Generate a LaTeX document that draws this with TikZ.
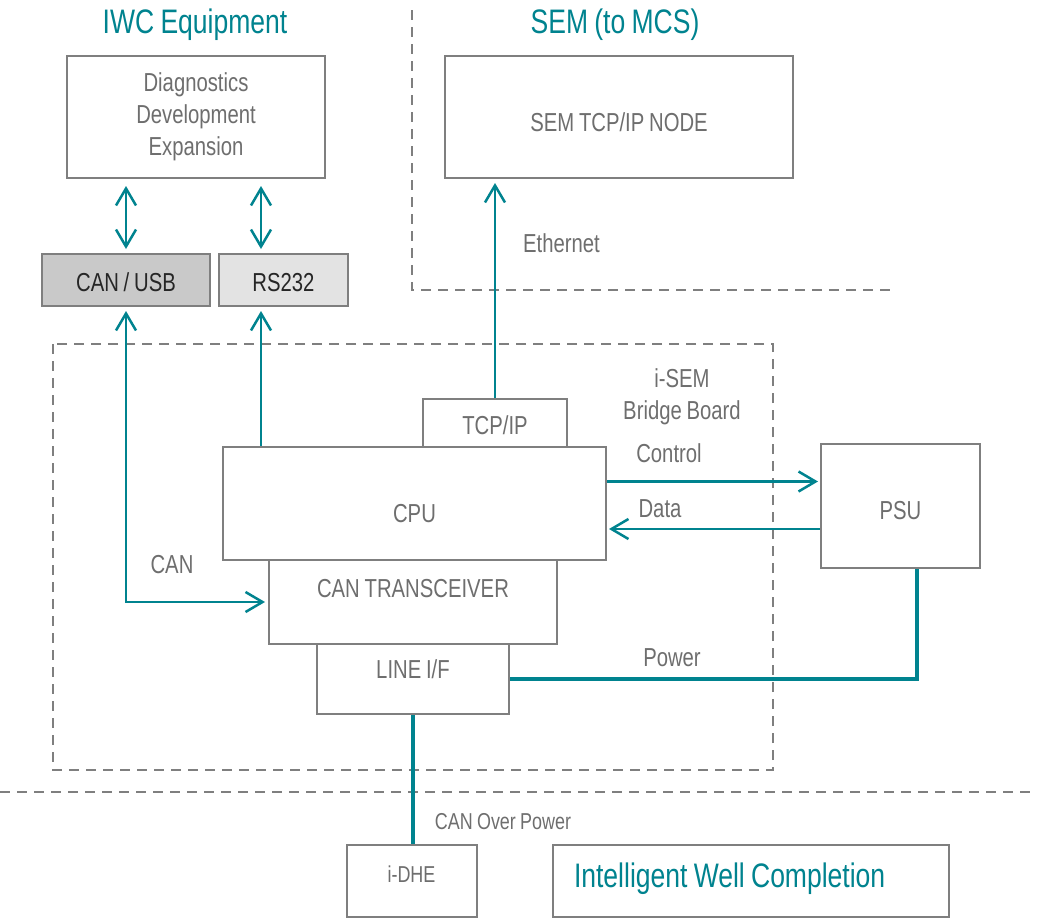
\documentclass[tikz,border=0pt]{standalone}
\usepackage{fontspec}
\setmainfont{Liberation Sans}[FakeStretch=0.78, WordSpace=0.85]
\usetikzlibrary{arrows.meta}
\definecolor{iwcteal}{HTML}{00838F}
\definecolor{boxgray}{HTML}{7F7F7F}
\definecolor{txtgray}{HTML}{6E6E6E}
\tikzstyle{block}=[draw=boxgray,line width=2pt,fill=white,text=txtgray,inner sep=0pt,font=\fontsize{26}{32}\selectfont]
\tikzstyle{tag}=[text=txtgray,inner sep=0pt,font=\fontsize{26}{32}\selectfont]
\tikzstyle{heading}=[text=iwcteal,inner sep=0pt,font=\fontsize{34}{40}\selectfont]
\tikzstyle{border}=[draw=boxgray,line width=2pt,dash pattern=on 10pt off 7pt]
\tikzstyle{oneway}=[draw=iwcteal,line width=2.5pt,->]
\tikzstyle{twoway}=[draw=iwcteal,line width=2.5pt,<->]
\tikzstyle{power}=[draw=iwcteal,line width=3.5pt]

\begin{document}
\begin{tikzpicture}[x=1pt, y=-1pt, >={Straight Barb[length=17pt,width=20pt]}]
\useasboundingbox (0, 0) rectangle (1037, 919);
% zones
\draw[border] (412, 10) -- (412, 290) -- (895, 290);
\draw[border] (53, 344) rectangle (773, 770);
\draw[border] (0, 792) -- (1037, 792);
\node[heading, anchor=base] at (195, 33) (iwctitle) {IWC Equipment};
\node[heading, anchor=base] at (615, 33) (semtitle) {SEM (to MCS)};
% blocks
\node[block, minimum width=258pt, minimum height=122pt, align=center] at (196, 117) (diag) {Diagnostics\\Development\\Expansion};
\node[block, fill=black!21, text=black!85, minimum width=168pt, text height=37pt, text depth=15pt] at (126, 280) (canusb) {CAN / USB};
\node[block, fill=black!11, text=black!85, minimum width=129pt, text height=37pt, text depth=15pt] at (283.5, 280) (rs232) {RS232};
\node[block, minimum width=348pt, text height=75pt, text depth=47pt] at (619, 117) (semnode) {SEM TCP/IP NODE};
\node[block, minimum width=144pt, text height=35pt, text depth=13pt] at (495, 423) (tcpip) {TCP/IP};
\node[block, minimum width=383pt, text height=75pt, text depth=38pt] at (414.5, 503.5) (cpu) {CPU};
\node[block, minimum width=288pt, text height=37pt, text depth=47pt] at (413, 602) (cantrx) {CAN TRANSCEIVER};
\node[block, minimum width=192pt, text height=34pt, text depth=36pt] at (413, 679) (lineif) {LINE I/F};
\node[block, minimum width=159pt, text height=75pt, text depth=49pt] at (900.5, 506) (psu) {PSU};
\node[block, minimum width=130pt, text height=37pt, text depth=35pt, font=\fontsize{23}{28}\selectfont] at (411.5, 881) (idhe) {i-DHE};
\node[block, text=iwcteal, inner xsep=21pt, text height=42pt, text depth=30pt, font=\fontsize{34}{40}\selectfont] at (751, 881) (iwc) {\makebox[354pt][l]{Intelligent Well Completion}};
% labels
\node[tag, anchor=base west] at (523, 252) (ethtag) {Ethernet};
\node[tag, align=center] at (682, 397) (isemtag) {i-SEM\\Bridge Board};
\node[tag, anchor=base] at (669, 462) (ctrltag) {Control};
\node[tag, anchor=base] at (660, 517) (datatag) {Data};
\node[tag, anchor=base] at (672, 666) (powtag) {Power};
\node[tag, anchor=base] at (172, 573) (cantag) {CAN};
\node[tag, anchor=base, font=\fontsize{23}{28}\selectfont] at (503, 829) (coptag) {CAN Over Power};
% connectors
\coordinate (rsx) at (261, 0);
\coordinate (pwx) at (917, 0);
\draw[twoway] ([yshift=-7pt]diag.south -| canusb.north) -- ([yshift=4pt]canusb.north);
\draw[twoway] ([yshift=-7pt]diag.south -| rsx) -- ([yshift=4pt]rs232.north -| rsx);
\draw[twoway] ([yshift=-4pt]canusb.south) |- ([xshift=-3pt]cantrx.west);
\draw[oneway] (cpu.north -| rsx) -- ([yshift=-4pt]rs232.south -| rsx);
\draw[oneway] (tcpip.north) -- ([yshift=-4pt]semnode.south -| tcpip.north);
\draw[oneway] ([yshift=22pt]cpu.east) -- ([yshift=22pt, xshift=-2pt]cpu.east -| psu.west);
\draw[oneway] ([yshift=-23pt]psu.west) -- ([yshift=-23pt, xshift=2pt]psu.west -| cpu.east);
\draw[power] (lineif.east) -| (psu.south -| pwx);
\draw[power] (lineif.south) -- (idhe.north -| lineif.south);
\end{tikzpicture}
\end{document}
